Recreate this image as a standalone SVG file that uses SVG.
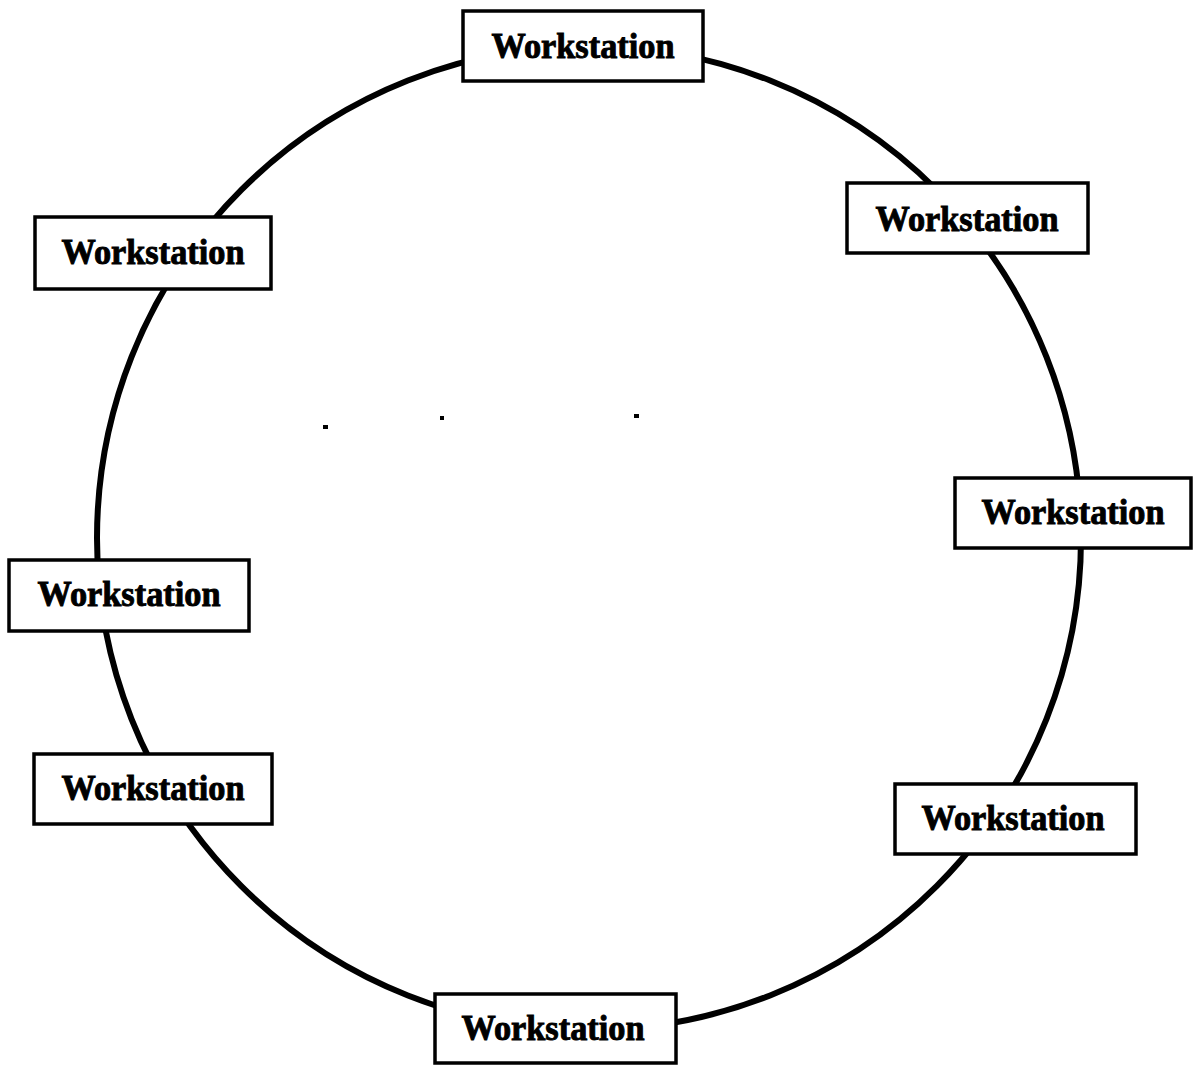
<svg xmlns="http://www.w3.org/2000/svg" width="1193" height="1068" viewBox="0 0 1193 1068">
  <style>
    .ring { fill: none; stroke: #000; stroke-width: 6; }
    .box { fill: #fff; stroke: #000; stroke-width: 3.5; }
    .label { font-family: "Liberation Serif", "DejaVu Serif", serif; font-weight: bold; font-size: 35px; fill: #000; stroke: #000; stroke-width: 0.9; text-anchor: middle; }
    .speck { fill: #000; }
  </style>
  <rect width="1193" height="1068" fill="#fff"/>

  <!-- token ring cable -->
  <g id="connectors">
    <circle class="ring" cx="589" cy="538" r="492"/>
  </g>

  <!-- stray specks inside the ring -->
  <g id="specks">
    <rect class="speck" x="323" y="425" width="5" height="4"/>
    <rect class="speck" x="440" y="416" width="4" height="4"/>
    <rect class="speck" x="634" y="414" width="5" height="4"/>
  </g>

  <g id="ws-top">
    <rect class="box" x="463" y="11" width="240" height="70"/>
    <text class="label" x="583" y="58" textLength="183" lengthAdjust="spacingAndGlyphs">Workstation</text>
  </g>
  <g id="ws-upper-right">
    <rect class="box" x="847" y="183" width="241" height="70"/>
    <text class="label" x="967" y="231" textLength="183" lengthAdjust="spacingAndGlyphs">Workstation</text>
  </g>
  <g id="ws-upper-left">
    <rect class="box" x="35" y="217" width="236" height="72"/>
    <text class="label" x="153" y="264" textLength="183" lengthAdjust="spacingAndGlyphs">Workstation</text>
  </g>
  <g id="ws-right">
    <rect class="box" x="955" y="478" width="236" height="70"/>
    <text class="label" x="1073" y="524" textLength="183" lengthAdjust="spacingAndGlyphs">Workstation</text>
  </g>
  <g id="ws-left">
    <rect class="box" x="9" y="560" width="240" height="71"/>
    <text class="label" x="129" y="606" textLength="183" lengthAdjust="spacingAndGlyphs">Workstation</text>
  </g>
  <g id="ws-lower-left">
    <rect class="box" x="34" y="754" width="238" height="70"/>
    <text class="label" x="153" y="800" textLength="183" lengthAdjust="spacingAndGlyphs">Workstation</text>
  </g>
  <g id="ws-lower-right">
    <rect class="box" x="895" y="784" width="241" height="70"/>
    <text class="label" x="1013" y="830" textLength="183" lengthAdjust="spacingAndGlyphs">Workstation</text>
  </g>
  <g id="ws-bottom">
    <rect class="box" x="435" y="994" width="241" height="69"/>
    <text class="label" x="553" y="1040" textLength="183" lengthAdjust="spacingAndGlyphs">Workstation</text>
  </g>
</svg>
